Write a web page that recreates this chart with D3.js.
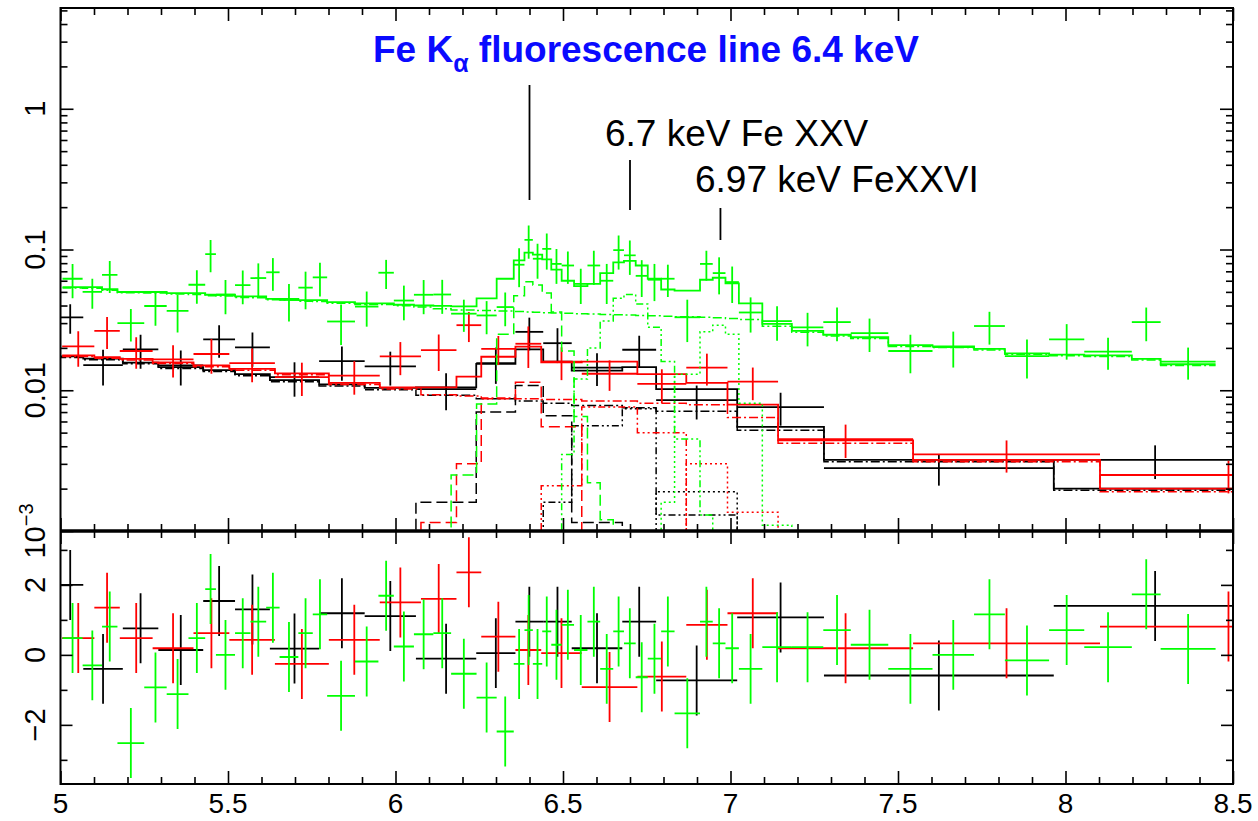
<!DOCTYPE html>
<html>
<head>
<meta charset="utf-8">
<script src="https://cdn.jsdelivr.net/npm/d3@7"></script>
<style>
  body { margin: 0; background: #fff; }
  svg { display: block; }
  text { font-family: "Liberation Sans", Arial, Helvetica, sans-serif; }
</style>
</head>
<body>
<svg id="chart" width="1258" height="821"></svg>
<script>
// ---------- Spectrum data (keV bins, counts/s/keV), three instruments ----------
// bin edges (n+1 values for n bins)
const blackEdges = [4.99, 5.068, 5.186, 5.292, 5.426, 5.521, 5.625, 5.772, 5.908, 6.061, 6.241, 6.358, 6.441, 6.526, 6.677, 6.778, 7.02, 7.279, 7.965, 8.57];
const blackFlux  = [0.033, 0.0151, 0.0195, 0.015, 0.023, 0.0202, 0.0124, 0.0161, 0.0148, 0.0102, 0.0156, 0.026, 0.0216, 0.0145, 0.0194, 0.0085, 0.0076, 0.0028, 0.0032];
const blackErr   = [0.0078, 0.0043, 0.0053, 0.0042, 0.006, 0.0055, 0.0034, 0.0044, 0.004, 0.003, 0.0045, 0.0068, 0.006, 0.0038, 0.005, 0.0023, 0.002, 0.0007, 0.00086];
const blackModel = [0.0174, 0.0168, 0.0157, 0.0146, 0.0139, 0.013, 0.0118, 0.011, 0.0104, 0.0105, 0.0154, 0.0195, 0.016, 0.0138, 0.0146, 0.0102, 0.0055, 0.0032, 0.002];
const blackResid = [2.0, -0.4, 0.76, 0.14, 1.54, 1.3, 0.18, 1.19, 1.11, -0.11, 0.05, 0.95, 0.95, 0.19, 0.95, -0.73, 1.07, -0.59, 1.4];
const blackCont  = [0.0171, 0.0165, 0.0154, 0.0143, 0.0136, 0.0127, 0.0115, 0.0107, 0.0101, 0.0092, 0.0087, 0.0084, 0.0081, 0.0078, 0.0075, 0.0071, 0.0052, 0.0031, 0.00195];
const blackFe64  = [null, null, null, null, null, null, null, null, null, 0.0016, 0.007, 0.0108, 0.0066, 0.00115, null, null, null, null, null];
const blackFe67  = [null, null, null, null, null, null, null, null, null, null, null, null, 0.0016, 0.0056, 0.0074, 0.0013, null, null, null];
const blackFe697 = [null, null, null, null, null, null, null, null, null, null, null, null, null, null, null, 0.0019, null, null, null];

const redEdges = [5.005, 5.101, 5.177, 5.275, 5.397, 5.504, 5.64, 5.801, 5.953, 6.076, 6.182, 6.256, 6.358, 6.435, 6.556, 6.722, 6.868, 6.991, 7.142, 7.545, 8.103, 8.87];
const redFlux  = [0.0205, 0.0264, 0.019, 0.0166, 0.0181, 0.0156, 0.0124, 0.0127, 0.0174, 0.0193, 0.029, 0.0197, 0.0214, 0.016, 0.0131, 0.0111, 0.0145, 0.0115, 0.0045, 0.0035, 0.0025];
const redErr   = [0.0058, 0.0068, 0.0048, 0.0043, 0.005, 0.0042, 0.0033, 0.0034, 0.0046, 0.0056, 0.007, 0.0046, 0.007, 0.0042, 0.0032, 0.003, 0.0037, 0.003, 0.0012, 0.0009, 0.00065];
const redModel = [0.0177, 0.0172, 0.0167, 0.0158, 0.015, 0.0142, 0.0132, 0.0113, 0.0105, 0.0105, 0.0125, 0.0173, 0.0204, 0.0158, 0.016, 0.013, 0.0113, 0.0079, 0.0044, 0.0032, 0.002];
const redResid = [0.48, 1.35, 0.48, 0.19, 0.62, 0.43, -0.26, 0.43, 1.5, 1.6, 2.36, 0.52, 0.14, 0.05, -0.92, -0.62, 0.86, 1.19, 0.19, 0.33, 0.81];
const redCont  = [0.0174, 0.0169, 0.0164, 0.0155, 0.0147, 0.0139, 0.0129, 0.011, 0.0102, 0.0093, 0.0091, 0.0088, 0.0087, 0.0086, 0.0084, 0.0081, 0.0079, 0.0064, 0.0042, 0.0031, 0.0019];
const redFe64  = [null, null, null, null, null, null, null, null, null, 0.00115, 0.003, 0.0087, 0.0114, 0.0055, null, null, null, null, null, null, null];
const redFe67  = [null, null, null, null, null, null, null, null, null, null, null, null, null, 0.0021, 0.0076, 0.005, null, null, null, null, null];
const redFe697 = [null, null, null, null, null, null, null, null, null, null, null, null, null, null, null, null, 0.003, 0.00136, null, null, null];

const greenEdges = [5.006, 5.066, 5.124, 5.17, 5.25, 5.317, 5.382, 5.432, 5.464, 5.521, 5.567, 5.614, 5.654, 5.71, 5.753, 5.796, 5.879, 5.949, 5.995, 6.055, 6.113, 6.166, 6.242, 6.302, 6.353, 6.385, 6.41, 6.438, 6.465, 6.496, 6.533, 6.573, 6.611, 6.65, 6.682, 6.717, 6.753, 6.793, 6.833, 6.909, 6.947, 6.985, 7.025, 7.095, 7.183, 7.277, 7.359, 7.471, 7.603, 7.727, 7.819, 7.951, 8.056, 8.198, 8.284, 8.448];
const greenFlux  = [0.062, 0.05, 0.066, 0.03, 0.0397, 0.0367, 0.0562, 0.0928, 0.0477, 0.0558, 0.0627, 0.0689, 0.0438, 0.0536, 0.0634, 0.0308, 0.0393, 0.0684, 0.0434, 0.0477, 0.0479, 0.035, 0.034, 0.039, 0.078, 0.117, 0.086, 0.101, 0.079, 0.077, 0.057, 0.077, 0.06, 0.099, 0.091, 0.065, 0.061, 0.062, 0.033, 0.079, 0.068, 0.0587, 0.0357, 0.031, 0.028, 0.0305, 0.0255, 0.019, 0.0203, 0.0286, 0.0175, 0.023, 0.0188, 0.0305, 0.016];
const greenErr   = [0.017, 0.012, 0.017, 0.0078, 0.011, 0.011, 0.015, 0.024, 0.013, 0.015, 0.017, 0.018, 0.013, 0.016, 0.017, 0.0098, 0.011, 0.016, 0.012, 0.013, 0.013, 0.009, 0.009, 0.0105, 0.024, 0.031, 0.024, 0.029, 0.022, 0.02, 0.016, 0.021, 0.019, 0.027, 0.025, 0.019, 0.018, 0.016, 0.011, 0.019, 0.02, 0.017, 0.01, 0.0085, 0.0075, 0.0082, 0.0068, 0.0058, 0.0058, 0.0075, 0.0054, 0.0065, 0.0048, 0.0082, 0.0041];
const greenModel = [0.054, 0.054, 0.0522, 0.0499, 0.0499, 0.049, 0.049, 0.0477, 0.0477, 0.0465, 0.0465, 0.0446, 0.0446, 0.0437, 0.0437, 0.0423, 0.0414, 0.0414, 0.0405, 0.04, 0.0398, 0.0395, 0.045, 0.062, 0.0838, 0.095, 0.092, 0.085, 0.072, 0.06, 0.055, 0.057, 0.068, 0.081, 0.083, 0.077, 0.062, 0.052, 0.051, 0.061, 0.063, 0.0575, 0.0414, 0.0296, 0.0264, 0.0248, 0.0238, 0.0209, 0.0205, 0.0197, 0.0183, 0.0179, 0.0177, 0.0167, 0.0153];
const greenResid = [0.48, -0.3, 0.81, -2.52, -0.93, -1.12, 0.48, 1.88, 0.0, 0.62, 0.95, 1.35, -0.06, 0.62, 1.16, -1.17, -0.19, 1.69, 0.24, 0.59, 0.62, -0.54, -1.22, -2.19, -0.26, 0.71, -0.26, 0.67, 0.29, 0.86, 0.14, 0.95, -0.4, 0.67, 0.33, -0.64, -0.11, 0.67, -1.67, 0.95, 0.33, 0.19, -0.4, 0.22, 0.22, 0.71, 0.29, -0.4, 0.0, 1.16, -0.16, 0.71, 0.22, 1.73, 0.17];
const greenCont  = [0.0532, 0.053, 0.0514, 0.0492, 0.049, 0.0482, 0.048, 0.0469, 0.0468, 0.0457, 0.0455, 0.0439, 0.0437, 0.0429, 0.0427, 0.0416, 0.0407, 0.0406, 0.0398, 0.039, 0.038, 0.0372, 0.0368, 0.0365, 0.0362, 0.036, 0.0358, 0.0356, 0.0354, 0.0352, 0.035, 0.0348, 0.0346, 0.0344, 0.0342, 0.034, 0.0338, 0.0336, 0.0333, 0.033, 0.0327, 0.0323, 0.0318, 0.0285, 0.0258, 0.0243, 0.0233, 0.0205, 0.0201, 0.0193, 0.018, 0.0176, 0.0174, 0.0164, 0.015];
const greenFe64  = [null, null, null, null, null, null, null, null, null, null, null, null, null, null, null, null, null, null, null, null, null, 0.0025, 0.008, 0.025, 0.047, 0.059, 0.056, 0.049, 0.036, 0.019, 0.0065, 0.0022, 0.0012, null, null, null, null, null, null, null, null, null, null, null, null, null, null, null, null, null, null, null, null, null, null];
const greenFe67  = [null, null, null, null, null, null, null, null, null, null, null, null, null, null, null, null, null, null, null, null, null, null, null, null, null, null, null, null, null, 0.0035, 0.012, 0.02, 0.031, 0.045, 0.048, 0.041, 0.028, 0.016, 0.0045, 0.0013, null, null, null, null, null, null, null, null, null, null, null, null, null, null, null];
const greenFe697 = [null, null, null, null, null, null, null, null, null, null, null, null, null, null, null, null, null, null, null, null, null, null, null, null, null, null, null, null, null, null, null, null, null, null, null, null, null, 0.0016, 0.013, 0.026, 0.029, 0.025, 0.0081, 0.0011, null, null, null, null, null, null, null, null, null, null, null];

// ---------- Axis ticks and labels ----------
const energyTicks = [5, 5.5, 6, 6.5, 7, 7.5, 8, 8.5];
const energyTickLabels = ["5", "5.5", "6", "6.5", "7", "7.5", "8", "8.5"];
const fluxTicks = [1, 0.1, 0.01, 0.001];
const fluxTickLabels = ["1", "0.1", "0.01", "10|−3"];
const residTicks = [2, 0, -2];
const residTickLabels = ["2", "0", "−2"];
const residMinorTicks = [3, 1, -1, -3];

// ---------- Line annotations ----------
const lineEnergies = [6.4, 6.7, 6.97];

// ---------- Layout ----------
const P = { left: 60.5, right: 1233, top: 8, mid: 531, bottom: 784 };
const svg = d3.select("#chart");

const x = d3.scaleLinear().domain([5, 8.5]).range([P.left, P.right]);
const yTop = d3.scaleLog().domain([1e-3, 5.2]).range([P.mid, P.top]);
const yRes = d3.scaleLinear().domain([-3.69, 3.54]).range([P.bottom, P.mid]);

const defs = svg.append("defs");
defs.append("clipPath").attr("id", "clipTop").append("rect")
  .attr("x", P.left).attr("y", P.top).attr("width", P.right - P.left).attr("height", P.mid - P.top);
defs.append("clipPath").attr("id", "clipRes").append("rect")
  .attr("x", P.left).attr("y", P.mid).attr("width", P.right - P.left).attr("height", P.bottom - P.mid);

const sets = [
  { color: "#000000", edges: blackEdges, flux: blackFlux, err: blackErr, model: blackModel, resid: blackResid,
    comps: [blackCont, blackFe64, blackFe67, blackFe697] },
  { color: "#ff0000", edges: redEdges, flux: redFlux, err: redErr, model: redModel, resid: redResid,
    comps: [redCont, redFe64, redFe67, redFe697] },
  { color: "#00ff00", edges: greenEdges, flux: greenFlux, err: greenErr, model: greenModel, resid: greenResid,
    comps: [greenCont, greenFe64, greenFe67, greenFe697] }
];
// continuum: dash-dot, 6.4 keV: dashed, 6.7 keV: dash-dot-dot, 6.97 keV: dotted
const compDash = ["9,3,2,3", "11,5", "7,3,2,3,2,3", "2,3"];

// histogram path over bins; components that fall off-scale drop below the panel
function stepPath(edges, vals) {
  const pts = vals.map((v, i) => [edges[i], v]);
  pts.push([edges[edges.length - 1], vals[vals.length - 1]]);
  return d3.line().curve(d3.curveStepAfter)
    .x(d => x(d[0]))
    .y(d => (d[1] == null ? P.mid + 40 : yTop(d[1])))(pts);
}

const topG = svg.append("g").attr("clip-path", "url(#clipTop)");
const resG = svg.append("g").attr("clip-path", "url(#clipRes)");
const LW = 1.8;

sets.forEach(s => {
  const n = s.flux.length;
  const idx = d3.range(n);
  const mid = i => (s.edges[i] + s.edges[i + 1]) / 2;
  const g = topG.append("g");

  // model components
  s.comps.forEach((c, k) => {
    g.append("path").attr("d", stepPath(s.edges, c))
      .attr("fill", "none").attr("stroke", s.color).attr("stroke-width", 1.5)
      .attr("stroke-dasharray", compDash[k]);
  });
  // total model
  g.append("path").attr("d", stepPath(s.edges, s.model))
    .attr("fill", "none").attr("stroke", s.color).attr("stroke-width", LW);

  // data crosses
  g.selectAll(null).data(idx).join("line")
    .attr("x1", i => x(s.edges[i])).attr("x2", i => x(s.edges[i + 1]))
    .attr("y1", i => yTop(s.flux[i])).attr("y2", i => yTop(s.flux[i]))
    .attr("stroke", s.color).attr("stroke-width", LW);
  g.selectAll(null).data(idx).join("line")
    .attr("x1", i => x(mid(i))).attr("x2", i => x(mid(i)))
    .attr("y1", i => yTop(s.flux[i] - s.err[i])).attr("y2", i => yTop(s.flux[i] + s.err[i]))
    .attr("stroke", s.color).attr("stroke-width", LW);

  // residual crosses (data - model) / sigma
  const r = resG.append("g");
  r.selectAll(null).data(idx).join("line")
    .attr("x1", i => x(s.edges[i])).attr("x2", i => x(s.edges[i + 1]))
    .attr("y1", i => yRes(s.resid[i])).attr("y2", i => yRes(s.resid[i]))
    .attr("stroke", s.color).attr("stroke-width", LW);
  r.selectAll(null).data(idx).join("line")
    .attr("x1", i => x(mid(i))).attr("x2", i => x(mid(i)))
    .attr("y1", i => yRes(s.resid[i] - 1)).attr("y2", i => yRes(s.resid[i] + 1))
    .attr("stroke", s.color).attr("stroke-width", LW);
});

// ---------- Frames and ticks ----------
const axG = svg.append("g");
const minorE = d3.range(50, 86).map(v => v / 10).filter(v => energyTicks.indexOf(v) < 0);
const logMinor = [];
[-3, -2, -1, 0].forEach(d => { for (let k = 2; k <= 9; k++) { const v = k * Math.pow(10, d); if (v <= 5.2) logMinor.push(v); } });

function ticks(axisFn, scale, vals, size, tx, ty) {
  axG.append("g").attr("transform", `translate(${tx},${ty})`)
    .call(axisFn(scale).tickValues(vals).tickSize(size).tickFormat(""))
    .call(g => g.select(".domain").remove())
    .call(g => g.selectAll("line").attr("stroke", "#000").attr("stroke-width", 1.6));
}
// energy ticks: top edge, divider (both sides), bottom edge
ticks(d3.axisBottom, x, energyTicks, 13, 0, P.top);
ticks(d3.axisBottom, x, minorE, 7, 0, P.top);
ticks(d3.axisTop, x, energyTicks, 13, 0, P.mid);
ticks(d3.axisTop, x, minorE, 7, 0, P.mid);
ticks(d3.axisBottom, x, energyTicks, 13, 0, P.mid);
ticks(d3.axisBottom, x, minorE, 7, 0, P.mid);
ticks(d3.axisTop, x, energyTicks, 13, 0, P.bottom);
ticks(d3.axisTop, x, minorE, 7, 0, P.bottom);
// flux ticks
ticks(d3.axisRight, yTop, fluxTicks, 13, P.left, 0);
ticks(d3.axisRight, yTop, logMinor, 7, P.left, 0);
ticks(d3.axisLeft, yTop, fluxTicks, 13, P.right, 0);
ticks(d3.axisLeft, yTop, logMinor, 7, P.right, 0);
// residual ticks
ticks(d3.axisRight, yRes, residTicks, 12, P.left, 0);
ticks(d3.axisRight, yRes, residMinorTicks, 7, P.left, 0);
ticks(d3.axisLeft, yRes, residTicks, 12, P.right, 0);
ticks(d3.axisLeft, yRes, residMinorTicks, 7, P.right, 0);

axG.append("rect").attr("x", P.left).attr("y", P.top).attr("width", P.right - P.left).attr("height", P.bottom - P.top)
  .attr("fill", "none").attr("stroke", "#000").attr("stroke-width", 2);
axG.append("line").attr("x1", P.left).attr("x2", P.right).attr("y1", P.mid).attr("y2", P.mid)
  .attr("stroke", "#000").attr("stroke-width", 3.4);

// ---------- Tick labels ----------
const LBL = 29;
svg.append("g").selectAll("text").data(energyTicks).join("text")
  .attr("x", d => x(d)).attr("y", 813).attr("text-anchor", "middle")
  .attr("font-size", 28).attr("fill", "#000")
  .text((d, i) => energyTickLabels[i]);

const yl = svg.append("g");
fluxTicks.forEach((v, i) => {
  const t = yl.append("text")
    .attr("transform", `translate(45,${yTop(v)}) rotate(-90)`)
    .attr("text-anchor", "middle").attr("font-size", LBL).attr("fill", "#000");
  const parts = fluxTickLabels[i].split("|");
  t.append("tspan").text(parts[0]);
  if (parts[1]) t.append("tspan").attr("dy", -12).attr("font-size", 20).text(parts[1]);
});
residTicks.forEach((v, i) => {
  yl.append("text")
    .attr("transform", `translate(45,${yRes(v)}) rotate(-90)`)
    .attr("text-anchor", "middle").attr("font-size", LBL).attr("fill", "#000")
    .text(residTickLabels[i]);
});

// ---------- Emission line annotations ----------
const ann = svg.append("g");
const markY = [[85, 200], [160, 210], [208, 240]];
lineEnergies.forEach((e, i) => {
  ann.append("line").attr("x1", x(e)).attr("x2", x(e))
    .attr("y1", markY[i][0]).attr("y2", markY[i][1])
    .attr("stroke", "#000").attr("stroke-width", 1.8);
});
const fe = ann.append("text").attr("x", 373).attr("y", 62)
  .attr("font-size", 37).attr("font-weight", "bold").attr("fill", "#0a0aff");
fe.append("tspan").text("Fe K");
fe.append("tspan").attr("dy", 10).attr("font-size", 25).text("α");
fe.append("tspan").attr("dy", -10).text(" fluorescence line 6.4 keV");

ann.append("text").attr("x", 605).attr("y", 146).attr("font-size", 37).attr("fill", "#000")
  .text("6.7 keV Fe XXV");
ann.append("text").attr("x", 695).attr("y", 192).attr("font-size", 37).attr("fill", "#000")
  .text("6.97 keV FeXXVI");
</script>
</body>
</html>
